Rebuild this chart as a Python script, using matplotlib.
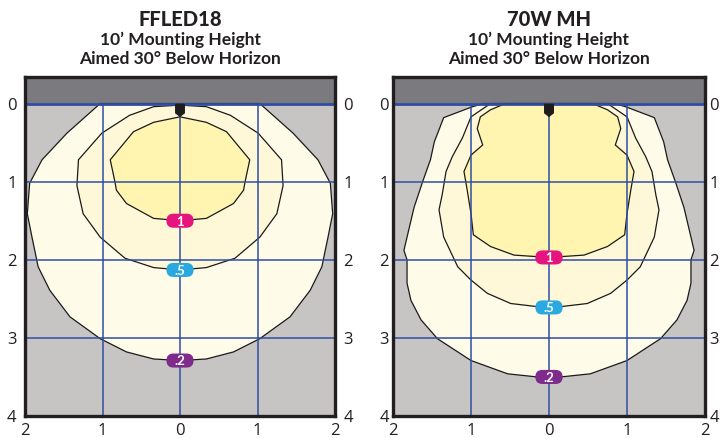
import matplotlib.pyplot as plt
from matplotlib.patches import FancyBboxPatch

plt.rcParams['font.family'] = ['Open Sans', 'DejaVu Sans']

OUTPUT_PATH = "out.png"

titles = ["FFLED18", "70W MH"]
subtitle_1 = "10\u2019 Mounting Height"
subtitle_2 = "Aimed 30\u00b0 Below Horizon"

y_ticks = [0, 1, 2, 3, 4]
x_ticks = [-2, -1, 0, 1, 2]
x_tick_labels = ["2", "1", "0", "1", "2"]

# contour levels, outermost first
level_labels = [".2", ".5", "1"]
level_fills = ["#fffbe9", "#fff8d8", "#fff5b0"]
level_badges = ["#7e2b8c", "#2aa9e0", "#e5147f"]

# left halves of each isofootcandle line (feet), mirrored for the right side
# FFLED18
ffled_outer_x = [0, -1.03, -1.46, -1.78, -1.94, -1.97, -1.91, -1.83, -1.68, -1.42, -1.03, -0.69, -0.34, 0]
ffled_outer_y = [0, 0, 0.38, 0.72, 1.02, 1.41, 1.71, 2.09, 2.39, 2.73, 3.01, 3.18, 3.27, 3.29]
ffled_mid_x = [0, -0.34, -0.65, -1.01, -1.31, -1.33, -1.25, -1.03, -0.71, -0.34, 0]
ffled_mid_y = [0.02, 0.04, 0.15, 0.38, 0.72, 1.05, 1.41, 1.71, 1.98, 2.10, 2.13]
ffled_inner_x = [0, -0.34, -0.60, -0.90, -0.84, -0.82, -0.69, -0.34, 0]
ffled_inner_y = [0.17, 0.24, 0.36, 0.72, 1.00, 1.11, 1.28, 1.47, 1.50]

# 70W MH
mh_outer_x = [0, -0.84, -0.98, -1.35, -1.47, -1.52, -1.62, -1.73, -1.86, -1.82, -1.82, -1.77, -1.64, -1.43, -1.00, -0.53, -0.15, 0]
mh_outer_y = [0, 0, 0.04, 0.18, 0.49, 0.72, 1.00, 1.33, 1.88, 2.00, 2.30, 2.52, 2.77, 3.01, 3.29, 3.46, 3.50, 3.50]
mh_mid_x = [0, -0.75, -1.00, -1.11, -1.24, -1.32, -1.37, -1.41, -1.35, -1.17, -1.00, -0.79, -0.49, -0.15, 0]
mh_mid_y = [0, 0, 0.17, 0.44, 0.68, 0.87, 1.17, 1.36, 1.71, 2.09, 2.26, 2.43, 2.56, 2.60, 2.61]
mh_inner_x = [0, -0.56, -0.75, -0.88, -0.92, -0.85, -1.00, -1.09, -1.05, -1.00, -0.97, -0.75, -0.45, -0.15, 0]
mh_inner_y = [0, 0, 0.08, 0.17, 0.32, 0.53, 0.66, 0.87, 1.10, 1.41, 1.68, 1.83, 1.94, 1.96, 1.97]

panels = [
    [(ffled_outer_x, ffled_outer_y), (ffled_mid_x, ffled_mid_y), (ffled_inner_x, ffled_inner_y)],
    [(mh_outer_x, mh_outer_y), (mh_mid_x, mh_mid_y), (mh_inner_x, mh_inner_y)],
]

GRID_BLUE = "#2f4ea3"
BAND_TOP = -0.34
TEXT_COLOR = "#231f20"


def mirror(xs, ys):
    # half line + its mirror image -> closed polygon
    full_x = list(xs) + [-x for x in reversed(xs)]
    full_y = list(ys) + list(reversed(ys))
    return full_x, full_y


fig = plt.figure(figsize=(7.2, 4.38), dpi=100)
axes_rects = [
    [25 / 720, 22 / 438, 310 / 720, 339 / 438],
    [393 / 720, 22 / 438, 312 / 720, 339 / 438],
]
left_pads = [6, 3]

for i, contours in enumerate(panels):
    ax = fig.add_axes(axes_rects[i])
    ax.set_facecolor("#c6c5c4")
    ax.set_xlim(-2, 2)
    ax.set_ylim(4, BAND_TOP)

    ax.axhspan(BAND_TOP, 0, color="#7b7a7f", zorder=1)

    for (hx, hy), fill in zip(contours, level_fills):
        px, py = mirror(hx, hy)
        ax.fill(px, py, facecolor=fill, edgecolor="#1a1a1a", linewidth=0.9, zorder=2)

    # grid
    for gx in [-1, 0, 1]:
        ax.plot([gx, gx], [0, 4], color=GRID_BLUE, linewidth=1.1, zorder=3)
    for gy in [1, 2, 3]:
        ax.axhline(gy, color=GRID_BLUE, linewidth=1.1, zorder=3)
    ax.axhline(0, color=GRID_BLUE, linewidth=2.0, zorder=3)

    # fixture
    ax.fill([-0.055, 0.055, 0.055, 0.015, 0, -0.015, -0.055],
            [0.01, 0.01, 0.12, 0.15, 0.165, 0.15, 0.12],
            color="#1e1c1d", zorder=4)

    # level badges at the bottom of each line on the centre axis
    for (hx, hy), lab, col in zip(contours, level_labels, level_badges):
        by = hy[-1]
        w, h = 0.35, 0.18
        badge = FancyBboxPatch((hx[-1] - w / 2, by - h / 2), w, h,
                               boxstyle="round,pad=0,rounding_size=0.09",
                               facecolor=col, edgecolor="none", zorder=5)
        ax.add_patch(badge)
        ax.text(hx[-1], by + 0.01, lab, color="white", fontsize=9.5,
                fontweight="bold", ha="center", va="center", zorder=6,
                family=["Lato", "DejaVu Sans"])

    ax.set_yticks(y_ticks)
    ax.set_xticks(x_ticks)
    ax.set_xticklabels(x_tick_labels)
    ax.tick_params(axis="both", length=0, labelsize=12, colors=TEXT_COLOR)
    ax.tick_params(axis="y", left=True, right=True, labelleft=True, labelright=True)
    ax.tick_params(axis="y", which="both", pad=left_pads[i])
    ax.tick_params(axis="x", pad=5)
    for sp in ax.spines.values():
        sp.set_linewidth(2.4)
        sp.set_color(TEXT_COLOR)
        sp.set_zorder(7)

    cx = axes_rects[i][0] + axes_rects[i][2] / 2
    fig.text(cx, 1 - 20 / 438, titles[i], fontsize=14.5, fontweight="black",
             ha="center", va="center", color=TEXT_COLOR, family=["Lato", "DejaVu Sans"])
    fig.text(cx, 1 - 40 / 438, subtitle_1, fontsize=12.5, fontweight="bold",
             ha="center", va="center", color=TEXT_COLOR, family=["Lato", "DejaVu Sans"])
    fig.text(cx, 1 - 59 / 438, subtitle_2, fontsize=12.5, fontweight="bold",
             ha="center", va="center", color=TEXT_COLOR, family=["Lato", "DejaVu Sans"])

fig.savefig(OUTPUT_PATH, dpi=100)
